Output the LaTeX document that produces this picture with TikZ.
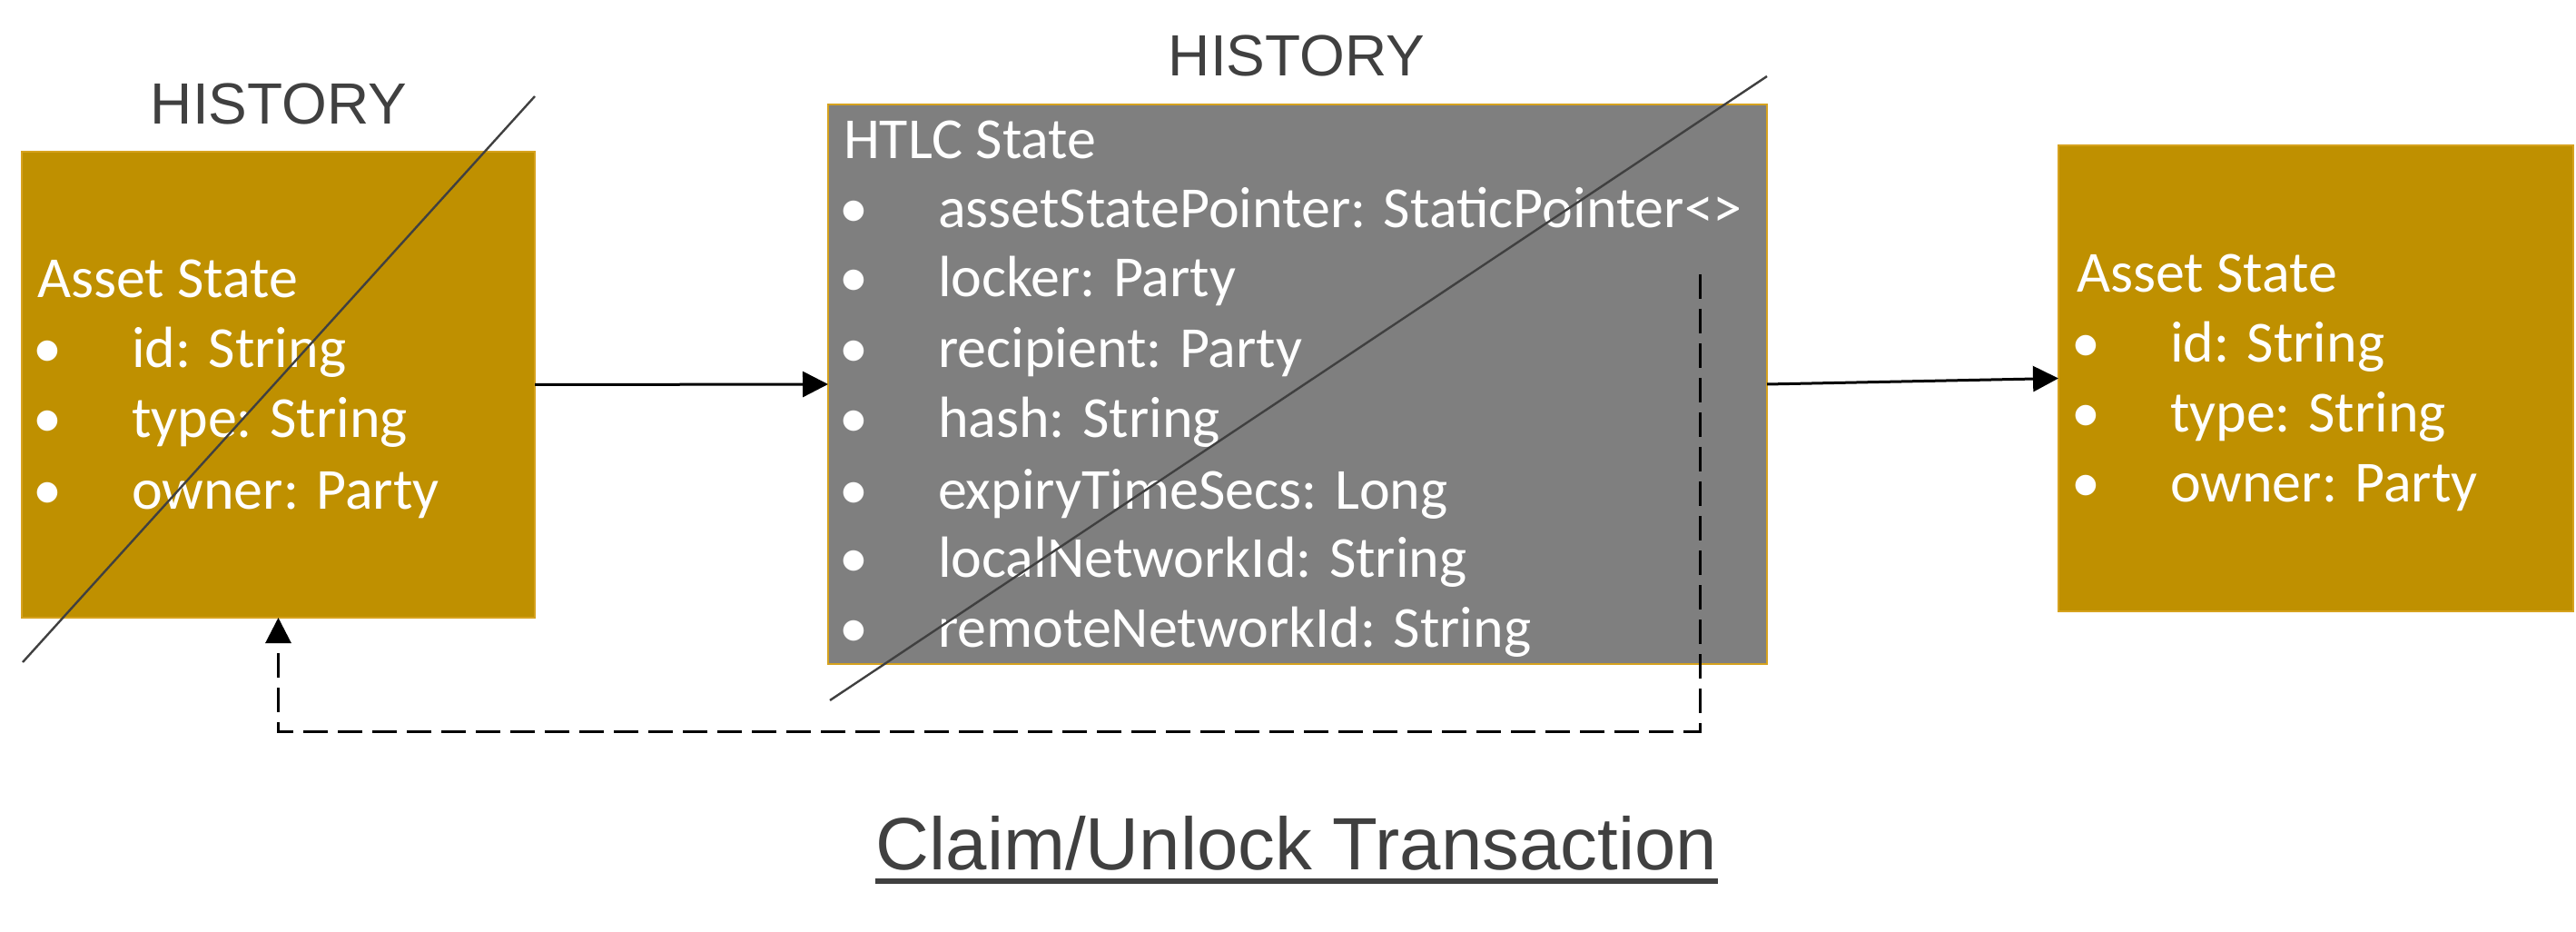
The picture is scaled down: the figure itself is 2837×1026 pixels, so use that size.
\documentclass[tikz,border=0pt]{standalone}
\usepackage{fontspec}
\setmainfont{Carlito}
\newfontfamily\arialf{Liberation Sans}
\usetikzlibrary{arrows.meta}
\definecolor{goldfill}{HTML}{BF9000}
\definecolor{goldedge}{RGB}{214,162,30}
\definecolor{grayfill}{HTML}{7F7F7F}
\definecolor{darktext}{HTML}{404040}
\tikzset{
  statebox/.style={draw=goldedge, line width=0.5pt, inner sep=0pt, outer sep=0pt},
  boxtxt/.style={text=white, inner sep=0pt, outer sep=0pt, font=\fontsize{16}{19.25}\selectfont},
  bul/.style={boxtxt, anchor=base},
  itm/.style={boxtxt, anchor=base west},
  hist/.style={text=darktext, inner sep=0pt, anchor=base, font=\arialf\fontsize{16}{19}\selectfont},
  strike/.style={draw=darktext, line width=0.6pt},
  flow/.style={draw=black, line width=0.75pt, -{Triangle[length=7pt,width=7pt]}},
  dflow/.style={draw=black, line width=0.75pt, dash pattern=on 6.75pt off 2.75pt, -{Triangle[length=7pt,width=7pt]}},
}
\begin{document}
\begin{tikzpicture}[x=0.25pt, y=-0.25pt]
\useasboundingbox (0,0) rectangle (2837,1026);

% boxes
\node[statebox, fill=goldfill, minimum width=141.25pt, minimum height=128.25pt] (lb) at (306.5,423.5) {};
\node[statebox, fill=grayfill, minimum width=258.5pt, minimum height=154pt] (htlc) at (1429,423) {};
\node[statebox, fill=goldfill, minimum width=141.75pt, minimum height=128.25pt] (rb) at (2550.5,416.5) {};

% HISTORY labels
\node[hist] (hist1) at (307,137) {HISTORY};
\node[hist] (hist2) at (1428,84) {HISTORY};

% left asset state
\node[itm] (lbh) at (41,328) {Asset State};
\node[bul] (lbb1) at (52,405) {•};
\node[itm] (lbt1) at (145,405) {id: String};
\node[bul] (lbb2) at (52,482) {•};
\node[itm] (lbt2) at (145,482) {type: String};
\node[bul] (lbb3) at (52,560) {•};
\node[itm] (lbt3) at (145,560) {owner: Party};

% HTLC state
\node[itm] (hh) at (929,175) {HTLC State};
\node[bul] (hb1) at (940,251) {•};
\node[itm] (ht1) at (1033,251) {assetStatePointer: StaticPointer<>};
\node[bul] (hb2) at (940,327) {•};
\node[itm] (ht2) at (1033,327) {locker: Party};
\node[bul] (hb3) at (940,405) {•};
\node[itm] (ht3) at (1033,405) {recipient: Party};
\node[bul] (hb4) at (940,482) {•};
\node[itm] (ht4) at (1033,482) {hash: String};
\node[bul] (hb5) at (940,560) {•};
\node[itm] (ht5) at (1033,560) {expiryTimeSecs: Long};
\node[bul] (hb6) at (940,635) {•};
\node[itm] (ht6) at (1033,635) {localNetworkId: String};
\node[bul] (hb7) at (940,712) {•};
\node[itm] (ht7) at (1033,712) {remoteNetworkId: String};

% right asset state
\node[itm] (rbh) at (2287,322) {Asset State};
\node[bul] (rbb1) at (2297,399) {•};
\node[itm] (rbt1) at (2390,399) {id: String};
\node[bul] (rbb2) at (2297,476) {•};
\node[itm] (rbt2) at (2390,476) {type: String};
\node[bul] (rbb3) at (2297,553) {•};
\node[itm] (rbt3) at (2390,553) {owner: Party};

% strike-through lines
\draw[strike] (25,729) -- (589,106);
\draw[strike] (914,771) -- (1946,84);

% connectors
\draw[flow] (lb.east) -- (htlc.west);
\draw[flow] (htlc.east) -- (rb.west);
\coordinate (dtop) at (1872,302);
\coordinate (dbot) at (1872,805);
\draw[dflow] (dtop) -- (dbot) -| (lb.south);

% title
\node[text=darktext, inner sep=0pt, anchor=base, font=\arialf\fontsize{20.4}{24}\selectfont] (title) at (1428,957) {Claim/Unlock Transaction};
\draw[darktext, line width=1.5pt] ([yshift=-3.25pt]title.base west) -- ([yshift=-3.25pt]title.base east);
\end{tikzpicture}
\end{document}
